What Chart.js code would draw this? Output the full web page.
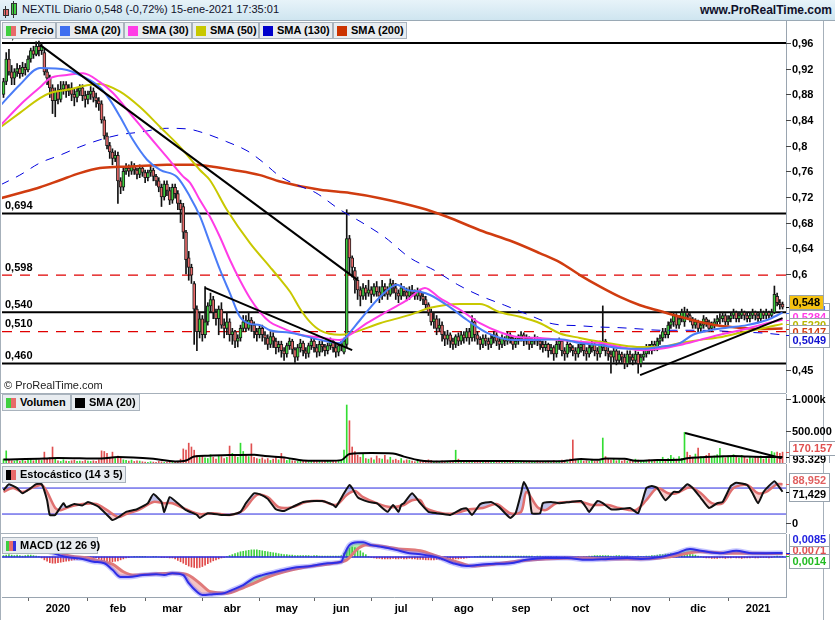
<!DOCTYPE html>
<html>
<head>
<meta charset="utf-8">
<script src="https://cdn.jsdelivr.net/npm/chart.js@4.4.1/dist/chart.umd.min.js"></script>
<style>
body { margin: 0; background: #fff; font-family: "Liberation Sans", Arial, sans-serif; }
#wrap { position: relative; width: 835px; height: 620px; overflow: hidden; background: #fff; }
canvas { position: absolute; left: 0; }
.hdr { position: absolute; left: 0; top: 0; width: 835px; height: 21px; box-sizing: border-box;
  background: linear-gradient(#e7f3f9, #cfe5f0); border-bottom: 1px solid #9aa9b5; z-index: 4; }
.hdr .t { position: absolute; left: 22px; top: 3px; font-size: 11px; color: #10102a; white-space: nowrap; }
.hdr .w { position: absolute; right: 3px; top: 3px; font-size: 12px; font-weight: bold; color: #10102a; }
.ic { position: absolute; border: 1px solid #333; box-sizing: border-box; }
.sep { position: absolute; left: 0; width: 786px; height: 1px; background: #a6b0ba; z-index: 3; }
.vline { position: absolute; top: 20px; width: 1px; height: 600px; background: #a6b0ba; }
.lg { position: absolute; height: 17px; box-sizing: border-box; border: 1px solid #a9b3bd; background: #e8ecf0;
  font: bold 11px "Liberation Sans", Arial, sans-serif; color: #000; line-height: 15px; padding-left: 17px;
  white-space: nowrap; z-index: 3; }
.lg i { position: absolute; left: 3px; top: 3px; width: 10px; height: 10px; }
.copy { position: absolute; left: 4px; top: 379px; font-size: 11px; color: #222; z-index: 3; }
</style>
</head>
<body>
<div id="wrap">
  <div class="hdr">
    <div class="ic" style="left:3px;top:9px;width:6px;height:7px;background:#e86a6a"></div>
    <div class="ic" style="left:5px;top:6px;width:1px;height:12px;border:none;background:#333"></div>
    <div class="ic" style="left:11px;top:3px;width:6px;height:12px;background:#3fcf3f"></div>
    <div class="ic" style="left:13px;top:1px;width:1px;height:17px;border:none;background:#333"></div>
    <span class="t">NEXTIL Diario 0,548 (-0,72%) 15-ene-2021 17:35:01</span>
    <span class="w">www.ProRealTime.com</span>
  </div>
  <div class="vline" style="left:0"></div>
  <div class="vline" style="left:823px"></div>

  <canvas id="cPrice" width="835" height="372" style="top:21px"></canvas>
  <canvas id="cVol" width="835" height="69" style="top:394px"></canvas>
  <canvas id="cStoch" width="835" height="69" style="top:464px"></canvas>
  <canvas id="cMacd" width="835" height="86" style="top:534px"></canvas>

  <div class="sep" style="top:393px"></div>
  <div class="sep" style="top:463px"></div>
  <div class="sep" style="top:533px"></div>

  <div class="lg" style="left:2px;top:22px;width:54px"><i style="background:linear-gradient(90deg,#3fcf3f 50%,#e86a6a 50%)"></i>Precio</div>
  <div class="lg" style="left:56px;top:22px;width:68px"><i style="background:#3f6ff0"></i>SMA (20)</div>
  <div class="lg" style="left:124px;top:22px;width:68px"><i style="background:#ff3ce6"></i>SMA (30)</div>
  <div class="lg" style="left:192px;top:22px;width:67px"><i style="background:#c8c800"></i>SMA (50)</div>
  <div class="lg" style="left:259px;top:22px;width:74px"><i style="background:#0000cc"></i>SMA (130)</div>
  <div class="lg" style="left:333px;top:22px;width:74px"><i style="background:#cc3300"></i>SMA (200)</div>

  <div class="lg" style="left:2px;top:394px;width:69px"><i style="background:linear-gradient(90deg,#3fcf3f 50%,#e86a6a 50%)"></i>Volumen</div>
  <div class="lg" style="left:71px;top:394px;width:69px"><i style="background:#000"></i>SMA (20)</div>
  <div class="lg" style="left:2px;top:466px;width:124px"><i style="background:linear-gradient(90deg,#000 50%,#e86a6a 50%)"></i>Estocástico (14 3 5)</div>
  <div class="lg" style="left:2px;top:537px;width:96px"><i style="background:linear-gradient(90deg,#3fcf3f 33%,#e86a6a 33% 66%,#3333dd 66%)"></i>MACD (12 26 9)</div>

  <div class="copy">© ProRealTime.com</div>
</div>

<script>
// x axis = trading day index (0 = 2 dic 2019, 286 = 15 ene 2021)
const monthStarts = [20, 42, 62, 84, 104, 124, 146, 169, 190, 212, 234, 255, 277];
const monthLabels = ['2020', 'feb', 'mar', 'abr', 'may', 'jun', 'jul', 'ago', 'sep', 'oct', 'nov', 'dic', '2021'];

const opens = [
  0.880, 0.900, 0.935, 0.915, 0.905, 0.915, 0.920, 0.912, 0.922, 0.918,
  0.935, 0.948, 0.942, 0.955, 0.948, 0.945, 0.915, 0.905, 0.890, 0.870,
  0.885, 0.872, 0.888, 0.895, 0.885, 0.890, 0.880, 0.875, 0.885, 0.890,
  0.878, 0.872, 0.880, 0.885, 0.875, 0.870, 0.865, 0.840, 0.815, 0.800,
  0.790, 0.780, 0.785, 0.745, 0.735, 0.760, 0.765, 0.760, 0.768, 0.762,
  0.755, 0.765, 0.758, 0.750, 0.758, 0.762, 0.752, 0.745, 0.735, 0.720,
  0.740, 0.730, 0.715, 0.735, 0.725, 0.710, 0.705, 0.665, 0.625, 0.610,
  0.585, 0.545, 0.510, 0.530, 0.505, 0.525, 0.550, 0.560, 0.540, 0.530,
  0.545, 0.520, 0.515, 0.525, 0.505, 0.510, 0.495, 0.500, 0.515, 0.525,
  0.515, 0.528, 0.520, 0.510, 0.505, 0.515, 0.505, 0.500, 0.490, 0.502,
  0.495, 0.485, 0.490, 0.480, 0.475, 0.488, 0.495, 0.482, 0.470, 0.485,
  0.492, 0.480, 0.476, 0.488, 0.495, 0.485, 0.478, 0.490, 0.486, 0.480,
  0.488, 0.495, 0.485, 0.478, 0.488, 0.478, 0.490, 0.655, 0.625, 0.605,
  0.590, 0.575, 0.565, 0.578, 0.570, 0.575, 0.568, 0.580, 0.572, 0.565,
  0.580, 0.575, 0.568, 0.585, 0.578, 0.570, 0.565, 0.578, 0.572, 0.565,
  0.575, 0.570, 0.565, 0.572, 0.565, 0.560, 0.552, 0.540, 0.525, 0.530,
  0.515, 0.520, 0.505, 0.498, 0.505, 0.495, 0.490, 0.502, 0.495, 0.505,
  0.500, 0.510, 0.500, 0.525, 0.505, 0.498, 0.490, 0.500, 0.495, 0.490,
  0.500, 0.505, 0.495, 0.490, 0.500, 0.495, 0.505, 0.500, 0.490, 0.495,
  0.500, 0.505, 0.495, 0.500, 0.490, 0.495, 0.498, 0.495, 0.490, 0.485,
  0.490, 0.480, 0.485, 0.475, 0.490, 0.495, 0.480, 0.475, 0.490, 0.485,
  0.480, 0.475, 0.485, 0.490, 0.480, 0.475, 0.485, 0.490, 0.480, 0.475,
  0.485, 0.495, 0.480, 0.475, 0.470, 0.480, 0.465, 0.475, 0.470, 0.460,
  0.475, 0.470, 0.465, 0.475, 0.460, 0.470, 0.475, 0.485, 0.480, 0.490,
  0.485, 0.495, 0.500, 0.510, 0.505, 0.520, 0.525, 0.535, 0.520, 0.530,
  0.525, 0.540, 0.535, 0.530, 0.520, 0.525, 0.515, 0.520, 0.530, 0.525,
  0.515, 0.520, 0.525, 0.530, 0.530, 0.535, 0.525, 0.530, 0.535, 0.540,
  0.530, 0.535, 0.540, 0.535, 0.530, 0.535, 0.540, 0.535, 0.530, 0.540,
  0.535, 0.540, 0.535, 0.540, 0.565, 0.555, 0.553
];
const highs = [
  0.905, 0.945, 0.950, 0.925, 0.920, 0.928, 0.925, 0.930, 0.928, 0.940,
  0.952, 0.955, 0.962, 0.963, 0.960, 0.950, 0.920, 0.910, 0.895, 0.890,
  0.895, 0.900, 0.900, 0.900, 0.895, 0.898, 0.888, 0.890, 0.895, 0.895,
  0.885, 0.885, 0.892, 0.890, 0.882, 0.875, 0.870, 0.845, 0.820, 0.805,
  0.795, 0.792, 0.790, 0.750, 0.765, 0.772, 0.770, 0.775, 0.772, 0.765,
  0.770, 0.768, 0.762, 0.762, 0.768, 0.765, 0.755, 0.750, 0.740, 0.745,
  0.745, 0.735, 0.740, 0.740, 0.730, 0.715, 0.710, 0.668, 0.635, 0.615,
  0.588, 0.550, 0.540, 0.535, 0.580, 0.555, 0.570, 0.565, 0.545, 0.550,
  0.555, 0.530, 0.540, 0.530, 0.515, 0.512, 0.505, 0.520, 0.535, 0.535,
  0.540, 0.532, 0.525, 0.515, 0.520, 0.520, 0.510, 0.505, 0.510, 0.508,
  0.500, 0.495, 0.495, 0.485, 0.492, 0.500, 0.498, 0.485, 0.490, 0.498,
  0.495, 0.485, 0.492, 0.500, 0.498, 0.490, 0.495, 0.495, 0.490, 0.492,
  0.500, 0.498, 0.490, 0.492, 0.495, 0.500, 0.700, 0.660, 0.628, 0.610,
  0.595, 0.580, 0.585, 0.582, 0.590, 0.580, 0.585, 0.588, 0.580, 0.590,
  0.585, 0.580, 0.592, 0.590, 0.585, 0.575, 0.585, 0.580, 0.578, 0.580,
  0.582, 0.575, 0.578, 0.576, 0.570, 0.565, 0.555, 0.545, 0.540, 0.535,
  0.530, 0.525, 0.510, 0.512, 0.508, 0.500, 0.505, 0.508, 0.510, 0.510,
  0.515, 0.515, 0.535, 0.530, 0.510, 0.502, 0.505, 0.505, 0.500, 0.505,
  0.510, 0.508, 0.500, 0.505, 0.502, 0.510, 0.508, 0.502, 0.500, 0.505,
  0.510, 0.508, 0.505, 0.502, 0.500, 0.505, 0.502, 0.498, 0.495, 0.495,
  0.492, 0.490, 0.488, 0.495, 0.500, 0.498, 0.485, 0.495, 0.492, 0.488,
  0.485, 0.490, 0.495, 0.492, 0.485, 0.490, 0.495, 0.492, 0.485, 0.495,
  0.550, 0.498, 0.485, 0.480, 0.485, 0.482, 0.480, 0.478, 0.475, 0.480,
  0.480, 0.475, 0.480, 0.478, 0.475, 0.480, 0.490, 0.490, 0.495, 0.495,
  0.500, 0.505, 0.515, 0.515, 0.525, 0.530, 0.540, 0.538, 0.535, 0.545,
  0.548, 0.545, 0.538, 0.532, 0.530, 0.528, 0.525, 0.535, 0.532, 0.528,
  0.525, 0.530, 0.535, 0.538, 0.540, 0.538, 0.535, 0.540, 0.545, 0.542,
  0.540, 0.545, 0.542, 0.540, 0.540, 0.545, 0.542, 0.538, 0.545, 0.542,
  0.545, 0.542, 0.545, 0.581, 0.570, 0.560, 0.556
];
const lows = [
  0.875, 0.895, 0.910, 0.895, 0.895, 0.908, 0.905, 0.908, 0.910, 0.915,
  0.930, 0.936, 0.940, 0.940, 0.942, 0.910, 0.895, 0.875, 0.850, 0.845,
  0.865, 0.868, 0.880, 0.875, 0.878, 0.870, 0.862, 0.868, 0.878, 0.870,
  0.860, 0.865, 0.872, 0.868, 0.860, 0.855, 0.835, 0.810, 0.795, 0.780,
  0.770, 0.775, 0.710, 0.725, 0.730, 0.755, 0.752, 0.755, 0.755, 0.748,
  0.750, 0.752, 0.742, 0.745, 0.752, 0.745, 0.738, 0.728, 0.705, 0.715,
  0.722, 0.708, 0.710, 0.718, 0.700, 0.680, 0.655, 0.600, 0.590, 0.585,
  0.490, 0.480, 0.500, 0.495, 0.500, 0.520, 0.540, 0.530, 0.520, 0.505,
  0.515, 0.500, 0.505, 0.495, 0.490, 0.485, 0.486, 0.495, 0.510, 0.510,
  0.512, 0.510, 0.500, 0.495, 0.500, 0.495, 0.490, 0.482, 0.485, 0.485,
  0.475, 0.478, 0.470, 0.465, 0.470, 0.482, 0.475, 0.462, 0.465, 0.478,
  0.472, 0.468, 0.470, 0.482, 0.478, 0.470, 0.472, 0.478, 0.472, 0.475,
  0.482, 0.478, 0.470, 0.472, 0.480, 0.475, 0.485, 0.600, 0.595, 0.570,
  0.560, 0.550, 0.560, 0.560, 0.565, 0.555, 0.565, 0.565, 0.555, 0.560,
  0.565, 0.560, 0.565, 0.570, 0.560, 0.555, 0.560, 0.565, 0.558, 0.560,
  0.565, 0.560, 0.560, 0.558, 0.552, 0.545, 0.535, 0.520, 0.515, 0.505,
  0.510, 0.495, 0.488, 0.490, 0.485, 0.482, 0.485, 0.488, 0.490, 0.492,
  0.495, 0.490, 0.495, 0.495, 0.490, 0.482, 0.485, 0.488, 0.482, 0.485,
  0.492, 0.488, 0.482, 0.485, 0.488, 0.490, 0.492, 0.482, 0.485, 0.490,
  0.495, 0.488, 0.490, 0.482, 0.485, 0.490, 0.488, 0.482, 0.478, 0.480,
  0.470, 0.475, 0.465, 0.470, 0.482, 0.472, 0.465, 0.470, 0.478, 0.472,
  0.465, 0.470, 0.478, 0.472, 0.465, 0.470, 0.478, 0.472, 0.465, 0.470,
  0.480, 0.472, 0.465, 0.445, 0.462, 0.458, 0.460, 0.462, 0.452, 0.455,
  0.462, 0.458, 0.460, 0.445, 0.455, 0.465, 0.470, 0.475, 0.475, 0.480,
  0.480, 0.490, 0.495, 0.500, 0.500, 0.515, 0.518, 0.515, 0.515, 0.525,
  0.518, 0.530, 0.525, 0.515, 0.515, 0.510, 0.510, 0.515, 0.518, 0.510,
  0.510, 0.515, 0.520, 0.522, 0.525, 0.520, 0.520, 0.525, 0.530, 0.525,
  0.525, 0.530, 0.528, 0.525, 0.525, 0.530, 0.528, 0.525, 0.525, 0.530,
  0.530, 0.530, 0.532, 0.538, 0.550, 0.545, 0.545
];
const closes = [
  0.900, 0.935, 0.915, 0.905, 0.915, 0.920, 0.912, 0.922, 0.918, 0.935,
  0.948, 0.942, 0.955, 0.948, 0.955, 0.915, 0.905, 0.890, 0.870, 0.885,
  0.872, 0.888, 0.895, 0.885, 0.890, 0.880, 0.875, 0.885, 0.890, 0.878,
  0.872, 0.880, 0.885, 0.875, 0.870, 0.865, 0.840, 0.815, 0.800, 0.790,
  0.780, 0.785, 0.745, 0.735, 0.760, 0.765, 0.760, 0.768, 0.762, 0.755,
  0.765, 0.758, 0.750, 0.758, 0.762, 0.752, 0.745, 0.735, 0.720, 0.740,
  0.730, 0.715, 0.735, 0.725, 0.710, 0.700, 0.665, 0.622, 0.610, 0.598,
  0.545, 0.510, 0.530, 0.505, 0.525, 0.550, 0.560, 0.540, 0.530, 0.545,
  0.520, 0.515, 0.525, 0.505, 0.510, 0.495, 0.500, 0.515, 0.525, 0.515,
  0.528, 0.520, 0.510, 0.505, 0.515, 0.505, 0.500, 0.490, 0.502, 0.495,
  0.485, 0.490, 0.480, 0.475, 0.488, 0.495, 0.482, 0.470, 0.485, 0.492,
  0.480, 0.476, 0.488, 0.495, 0.485, 0.478, 0.490, 0.486, 0.480, 0.488,
  0.495, 0.485, 0.478, 0.488, 0.490, 0.495, 0.655, 0.625, 0.610, 0.590,
  0.575, 0.565, 0.578, 0.570, 0.575, 0.568, 0.580, 0.572, 0.565, 0.580,
  0.575, 0.568, 0.585, 0.578, 0.570, 0.565, 0.578, 0.572, 0.565, 0.575,
  0.570, 0.565, 0.572, 0.565, 0.560, 0.552, 0.540, 0.525, 0.530, 0.515,
  0.520, 0.505, 0.498, 0.505, 0.495, 0.490, 0.502, 0.495, 0.505, 0.500,
  0.510, 0.500, 0.525, 0.505, 0.498, 0.490, 0.500, 0.495, 0.490, 0.500,
  0.505, 0.495, 0.490, 0.500, 0.495, 0.505, 0.500, 0.490, 0.495, 0.500,
  0.505, 0.495, 0.500, 0.490, 0.495, 0.498, 0.495, 0.490, 0.485, 0.490,
  0.480, 0.485, 0.475, 0.490, 0.495, 0.480, 0.475, 0.490, 0.485, 0.480,
  0.475, 0.485, 0.490, 0.480, 0.475, 0.485, 0.490, 0.480, 0.475, 0.490,
  0.495, 0.480, 0.475, 0.470, 0.480, 0.465, 0.475, 0.470, 0.460, 0.475,
  0.470, 0.465, 0.475, 0.460, 0.470, 0.475, 0.485, 0.480, 0.490, 0.485,
  0.495, 0.500, 0.510, 0.505, 0.520, 0.525, 0.535, 0.520, 0.530, 0.540,
  0.540, 0.535, 0.530, 0.520, 0.525, 0.515, 0.520, 0.530, 0.525, 0.515,
  0.520, 0.525, 0.530, 0.530, 0.535, 0.525, 0.530, 0.535, 0.540, 0.530,
  0.535, 0.540, 0.535, 0.530, 0.535, 0.540, 0.535, 0.530, 0.540, 0.535,
  0.540, 0.535, 0.540, 0.568, 0.555, 0.552, 0.548
];

// moving averages: [day, value]
const sma20 = [[-1,0.863],[6,0.895],[13.4,0.921],[23.3,0.918],[28,0.91],[35.4,0.891],[39.1,0.871],[42.8,0.845],[47.5,0.809],[52.7,0.778],[57.5,0.762],[63.7,0.751],[68.5,0.72],[72.1,0.69],[75.8,0.648],[79.5,0.606],[83.1,0.57],[86.8,0.533],[90.5,0.522],[94.2,0.52],[97.8,0.512],[105.2,0.508],[108.8,0.505],[116.2,0.497],[123.5,0.492],[125.4,0.5],[130.9,0.528],[138.2,0.564],[144.5,0.583],[148.1,0.575],[152.9,0.572],[156.6,0.567],[163.9,0.548],[170.2,0.528],[177.5,0.508],[187,0.497],[194.4,0.497],[204.3,0.498],[211.6,0.492],[219,0.489],[226.3,0.484],[233.7,0.483],[241,0.486],[248.3,0.492],[253.1,0.505],[259.4,0.512],[265.6,0.516],[272.9,0.52],[280.3,0.528],[286,0.5394]];
const sma30 = [[-1,0.832],[6,0.863],[13.4,0.891],[17.1,0.905],[23.3,0.91],[29.2,0.913],[35.4,0.899],[40.2,0.882],[47.5,0.845],[53.8,0.813],[60,0.782],[65.9,0.752],[68.5,0.742],[72.1,0.715],[75.8,0.689],[79.5,0.657],[83.1,0.622],[86.8,0.59],[90.5,0.562],[94.2,0.54],[97.8,0.525],[101.5,0.517],[108.8,0.505],[116.2,0.501],[123.5,0.497],[127.2,0.505],[133.4,0.523],[141.9,0.544],[148.1,0.559],[154.7,0.578],[160.2,0.562],[167.6,0.544],[174.9,0.523],[182.3,0.509],[189.6,0.501],[197,0.5],[204.3,0.497],[211.6,0.494],[219,0.492],[226.3,0.486],[234.8,0.481],[241,0.483],[248.3,0.489],[255.7,0.497],[263,0.505],[270.4,0.512],[277.7,0.52],[286,0.5284]];
const sma50 = [[-1,0.829],[6,0.851],[13.4,0.874],[17.1,0.882],[23.3,0.887],[30.7,0.894],[35.4,0.896],[42.8,0.884],[50.1,0.86],[57.5,0.829],[64.8,0.798],[72.1,0.762],[75.8,0.746],[82,0.7],[90.5,0.648],[97.8,0.611],[101.5,0.592],[105.2,0.572],[108.8,0.546],[112.5,0.525],[116.2,0.512],[123.5,0.505],[127.2,0.507],[138.2,0.523],[149.2,0.536],[156.6,0.547],[167.6,0.553],[174.9,0.553],[182.3,0.54],[189.6,0.533],[197,0.523],[204.3,0.507],[211.6,0.5],[219,0.494],[226.3,0.489],[233.7,0.486],[241,0.486],[248.3,0.492],[255.7,0.497],[263,0.501],[270.4,0.508],[277.7,0.514],[286,0.522]];
const sma130 = [[-1,0.739],[6,0.754],[13.4,0.773],[20.7,0.785],[28,0.798],[35.4,0.809],[42.8,0.817],[50.1,0.821],[60,0.827],[67.4,0.826],[74.7,0.818],[82,0.806],[89.4,0.792],[95,0.775],[101.5,0.752],[108,0.738],[114.4,0.727],[123.5,0.7],[131.6,0.68],[140,0.657],[149.2,0.625],[158.4,0.605],[166.8,0.583],[174.9,0.566],[184,0.551],[192.2,0.537],[201.7,0.522],[211.6,0.519],[219,0.517],[226.3,0.516],[233.7,0.514],[241,0.512],[255.7,0.512],[263,0.511],[270.4,0.509],[277.7,0.508],[286,0.5049]];
const sma200 = [[-1,0.718],[6,0.726],[13.4,0.735],[20.7,0.746],[28,0.757],[35.4,0.765],[42.8,0.767],[50.1,0.768],[60,0.77],[69.6,0.77],[76.9,0.767],[84.3,0.762],[94.2,0.754],[101.5,0.744],[116.2,0.731],[127.2,0.726],[138.2,0.718],[152.9,0.703],[162.8,0.689],[174.9,0.668],[187,0.65],[197,0.632],[204.3,0.618],[211.6,0.598],[219,0.58],[226.3,0.564],[233.7,0.551],[241,0.542],[248.3,0.533],[255.7,0.525],[263,0.519],[270.4,0.516],[277.7,0.514],[286,0.5147]];

// drawn trend lines and horizontal levels
const trendA = [[13.4, 0.957], [129.8, 0.591]];
const trendB = [[74, 0.578], [128, 0.481]];
const trendC = [[233.7, 0.442], [286, 0.531]];
const solidLevels = [0.96, 0.694, 0.54, 0.46];
const dashedLevels = [0.598, 0.51];
const levelLabels = ['0,960', '0,694', '0,598', '0,540', '0,510', '0,460'];
const priceTicks = [0.96, 0.92, 0.88, 0.84, 0.8, 0.76, 0.72, 0.68, 0.64, 0.6, 0.45];

// volume, thousands
const volume = [
  60, 190, 50, 35, 30, 45, 25, 50, 30, 40,
  60, 35, 50, 45, 40, 170, 70, 80, 250, 60,
  35, 25, 50, 30, 25, 35, 45, 25, 30, 25,
  40, 30, 25, 35, 25, 50, 190, 180, 150, 80,
  170, 70, 110, 80, 50, 40, 30, 45, 25, 35,
  30, 20, 15, 10, 20, 15, 12, 25, 18, 10,
  15, 20, 12, 18, 25, 60, 220, 200, 310, 250,
  200, 120, 90, 110, 80, 70, 130, 90, 60, 120,
  100, 70, 90, 265, 150, 110, 90, 310, 180, 120,
  100, 300, 90, 70, 60, 80, 50, 70, 40, 60,
  90, 50, 150, 70, 40, 60, 35, 30, 25, 40,
  30, 25, 20, 35, 30, 25, 40, 20, 30, 25,
  20, 35, 25, 40, 30, 200, 906, 660, 250, 180,
  120, 90, 150, 70, 60, 80, 50, 110, 70, 60,
  120, 50, 90, 45, 60, 40, 70, 35, 50, 45,
  30, 20, 35, 25, 30, 40, 50, 40, 25, 30,
  25, 35, 20, 25, 30, 20, 200, 60, 25, 20,
  25, 20, 40, 25, 15, 25, 20, 15, 25, 20,
  20, 30, 15, 25, 15, 20, 15, 30, 20, 15,
  25, 15, 20, 30, 15, 20, 35, 25, 15, 20,
  30, 20, 40, 25, 35, 45, 30, 20, 60, 360,
  60, 40, 50, 30, 35, 25, 45, 25, 30, 35,
  390, 100, 60, 45, 70, 35, 50, 30, 45, 30,
  25, 35, 60, 45, 30, 40, 30, 50, 35, 45,
  30, 50, 90, 45, 70, 120, 80, 60, 100, 70,
  480, 170, 120, 90, 140, 234, 100, 80, 120, 150,
  90, 110, 130, 230, 100, 80, 110, 90, 130, 100,
  80, 120, 90, 60, 100, 70, 90, 80, 110, 60,
  90, 70, 180, 160, 170, 150, 170.157
];
const volSma = [[0,55],[15,70],[20,80],[36,70],[42,95],[55,65],[63,25],[67,40],[70,100],[75,115],[85,125],[92,130],[96,110],[104,80],[110,40],[120,35],[124,45],[127,140],[135,155],[143,150],[147,100],[153,40],[160,25],[166,30],[185,30],[205,28],[208,45],[212,62],[218,50],[221,70],[228,65],[232,35],[240,45],[248,50],[251,75],[256,90],[262,100],[268,110],[273,100],[280,95],[286,93.329]];
const volTrend = [[250.2, 469], [285.7, 73]];

// stochastic %K and %D
const stochK = [[0,75],[2,89],[5,80],[7,68],[10,80],[12,89],[14,89],[16,52],[17,18],[19,18],[22,45],[23,36],[26,43],[29,40],[31,48],[34,40],[35,36],[38,18],[40,6],[42,12],[45,25],[49,31],[53,45],[55,66],[58,48],[59,25],[61,59],[64,45],[67,29],[71,18],[72,11],[75,22],[80,18],[83,18],[87,25],[89,45],[92,68],[94,66],[97,55],[100,31],[103,27],[106,36],[110,48],[114,50],[117,50],[121,41],[122,36],[125,68],[127,87],[128,80],[130,59],[134,48],[137,45],[141,25],[143,41],[145,25],[146,41],[147,45],[150,68],[153,45],[156,25],[159,22],[164,18],[168,31],[170,33],[172,18],[175,43],[179,48],[182,36],[186,11],[188,22],[190,68],[191,94],[193,68],[194,22],[197,22],[198,45],[201,48],[204,45],[208,48],[212,50],[214,34],[215,25],[218,50],[220,45],[223,31],[226,31],[230,34],[233,22],[236,80],[238,85],[240,80],[243,52],[246,71],[248,71],[251,89],[253,80],[256,57],[259,34],[262,45],[264,48],[267,85],[269,92],[273,87],[275,68],[277,45],[279,71],[281,85],[283,96],[284,89],[286,71.429]];
const stochD = [[0,71],[3.5,80],[7,71],[11,82],[14,87],[16,71],[19,34],[21,29],[24,36],[29,43],[34,43],[38,29],[42,13],[45,20],[50,31],[55,48],[59,45],[62,45],[67,31],[72,20],[77,22],[83,18],[88,29],[93,64],[97,59],[101,36],[106,36],[111,48],[117,50],[122,41],[126,64],[129,73],[132,59],[137,45],[142,36],[147,41],[150,52],[153,52],[155,34],[161,22],[166,22],[171,31],[176,34],[181,43],[186,22],[190,25],[192,71],[196,36],[199,29],[203,45],[212,48],[216,41],[222,41],[226,34],[232,29],[236,52],[240,80],[244,68],[247,68],[252,82],[256,68],[260,45],[264,45],[268,80],[273,87],[277,68],[280,71],[284,89],[286,88.952]];

// MACD (12 26 9)
const macdLine = [[0,0.018],[8,0.021],[13,0.019],[18,0.0084],[23,0],[29,-0.004],[33,-0.01],[37,-0.013],[40,-0.027],[43,-0.042],[46,-0.042],[51,-0.038],[56,-0.036],[59,-0.038],[62,-0.034],[66,-0.038],[68,-0.055],[71,-0.073],[73,-0.08],[77,-0.078],[81,-0.076],[84,-0.069],[88,-0.059],[92,-0.044],[95,-0.038],[100,-0.031],[106,-0.023],[113,-0.019],[119,-0.013],[124,-0.01],[125,0.004],[127,0.025],[130,0.031],[132,0.031],[135,0.025],[139,0.021],[144,0.015],[149,0.008],[153,0.006],[160,-0.002],[165,-0.013],[170,-0.019],[177,-0.015],[186,-0.013],[192,-0.006],[199,-0.002],[207,-0.002],[214,-0.006],[222,-0.004],[229,-0.002],[234,-0.004],[241,0],[247,0.008],[252,0.017],[256,0.013],[263,0.008],[269,0.013],[275,0.008],[280,0.008],[286,0.0085]];
const macdSignal = [[0,0.012],[8,0.016],[14,0.018],[20,0.012],[23,0.004],[31,-0.002],[35,-0.008],[40,-0.015],[44,-0.031],[48,-0.038],[54,-0.036],[62,-0.034],[67,-0.036],[72,-0.055],[76,-0.073],[82,-0.076],[87,-0.067],[92,-0.055],[97,-0.042],[103,-0.031],[111,-0.021],[121,-0.013],[126,-0.006],[130,0.017],[133,0.025],[138,0.023],[145,0.017],[153,0.013],[160,0],[168,-0.013],[172,-0.019],[180,-0.015],[190,-0.008],[199,-0.004],[212,-0.002],[222,-0.004],[234,-0.004],[244,0],[251,0.008],[256,0.011],[266,0.008],[275,0.008],[286,0.0071]];
const macdHist = [
  .003, .004, .005, .004, .003, .004, .003, .002, .003, .004,
  .004, .003, .002, .001, -.002, -.006, -.009, -.012, -.013, -.013,
  -.012, -.011, -.010, -.009, -.008, -.007, -.006, -.005, -.004, -.004,
  -.003, -.002, -.002, -.001, -.002, -.004, -.006, -.008, -.009, -.010,
  -.010, -.009, -.008, -.006, -.004, -.002, -.001, .000, .001, .001,
  .001, .001, .001, .000, .000, .001, .001, .000, -.001, -.001,
  -.001, -.002, -.002, -.004, -.007, -.010, -.013, -.016, -.019, -.021,
  -.022, -.023, -.022, -.020, -.017, -.014, -.011, -.008, -.006, -.004,
  -.002, -.001, .001, .003, .005, .007, .009, .011, .012, .013,
  .014, .015, .015, .015, .014, .013, .012, .011, .010, .009,
  .008, .007, .006, .005, .005, .004, .004, .003, .003, .003,
  .003, .003, .003, .002, .003, .003, .002, .002, .002, .002,
  .002, .002, .002, .002, .003, .008, .015, .019, .021, .020,
  .017, .013, .009, .005, .001, -.001, -.002, -.003, -.003, -.004,
  -.004, -.004, -.004, -.003, -.004, -.004, -.003, -.004, -.004, -.003,
  -.004, -.004, -.005, -.005, -.005, -.006, -.006, -.006, -.006, -.005,
  -.005, -.006, -.006, -.005, -.005, -.005, -.004, -.004, -.003, -.003,
  -.002, -.001, .000, .001, .001, .002, .002, .002, .002, .002,
  .002, .002, .002, .002, .002, .002, .002, .002, .002, .002,
  .002, .002, .002, .002, .002, .001, .002, .002, .001, .001,
  .001, .001, .000, .001, .000, .000, .001, .000, -.001, .000,
  .000, .001, .000, .001, .001, .002, .002, .003, .003, .003,
  .003, .003, .003, .002, .002, .003, .003, .002, .002, .002,
  .001, .001, .001, .002, .001, .001, .002, .002, .003, .003,
  .004, .005, .005, .006, .006, .007, .007, .008, .008, .008,
  .008, .007, .006, .005, .004, .002, .001, -.001, -.002, -.002,
  -.003, -.003, -.003, -.002, -.002, -.003, -.002, -.002, -.001, -.002,
  -.002, -.003, -.002, -.002, -.002, -.001, -.002, -.002, -.001, -.001,
  -.001, -.002, -.001, .001, .002, .001, .0014
];

const FONT = '"Liberation Sans", Arial, sans-serif';
const X_MIN = -0.55, X_MAX = 287.26;
const GREEN = '#3fcf3f', RED = '#e86a6a';

function pts(pairs) { return pairs.map(p => ({ x: p[0], y: p[1] })); }
function line(pairs, color, width, order, extra) {
  return Object.assign({ type: 'line', data: pts(pairs), borderColor: color, borderWidth: width,
    pointRadius: 0, cubicInterpolationMode: 'monotone', order: order }, extra || {});
}
function hline(v, color, width, order, dash) {
  return { type: 'line', data: [{ x: X_MIN, y: v }, { x: X_MAX, y: v }], borderColor: color,
    borderWidth: width, borderDash: dash || [], pointRadius: 0, order: order };
}

// right axis labels, value boxes and level labels
const deco = {
  id: 'deco',
  afterDraw(chart, args, o) {
    const ctx = chart.ctx, ys = chart.scales.y, a = chart.chartArea;
    ctx.save();
    ctx.font = 'bold 11px ' + FONT;
    ctx.lineWidth = 1;
    ctx.textBaseline = 'middle';
    (o.ticks || []).forEach(t => {
      const py = Math.round(ys.getPixelForValue(t[0])) + 0.5;
      ctx.strokeStyle = '#444';
      ctx.beginPath(); ctx.moveTo(a.right, py); ctx.lineTo(a.right + 5, py); ctx.stroke();
      ctx.fillStyle = '#000';
      ctx.fillText(t[1], a.right + 6, py);
    });
    ctx.textBaseline = 'bottom';
    (o.levels || []).forEach(t => {
      ctx.fillStyle = '#000';
      ctx.fillText(t[1], a.left + 3, ys.getPixelForValue(t[0]) - 2);
    });
    ctx.textBaseline = 'middle';
    const boxes = o.boxes || [];
    let prev = -1e9;
    const placed = boxes.map(b => {
      const c = Math.max(ys.getPixelForValue(b.v), prev + o.gap);
      prev = c;
      return Object.assign({}, b, { c: c + (o.shift || 0), py: ys.getPixelForValue(b.v) });
    });
    const drawBox = b => {
      ctx.strokeStyle = b.color;
      ctx.beginPath(); ctx.moveTo(a.right, Math.round(b.py) + 0.5); ctx.lineTo(a.right + 4, Math.round(b.py) + 0.5); ctx.stroke();
      const w = Math.ceil(ctx.measureText(b.text).width) + 6, h = 14;
      const x = a.right + 3.5, y = Math.round(b.c - h / 2) + 0.5;
      ctx.fillStyle = b.bg || '#fff';
      ctx.fillRect(x, y, w, h);
      ctx.strokeStyle = '#98a3ae';
      ctx.strokeRect(x, y, w, h);
      ctx.fillStyle = b.color;
      ctx.fillText(b.text, x + 3, y + h / 2 + 0.5);
    };
    placed.slice(1).forEach(drawBox);
    if (placed.length) drawBox(placed[0]);
    ctx.restore();
  }
};

function options(yMin, yMax, decoOpts, showX) {
  return {
    responsive: false, animation: false, events: [],
    layout: { padding: { left: 2, right: 0, top: 0, bottom: 0 } },
    plugins: { legend: { display: false }, tooltip: { enabled: false },
      filler: { drawTime: 'beforeDatasetsDraw' }, deco: decoOpts },
    scales: {
      x: {
        type: 'linear', min: X_MIN, max: X_MAX, offset: false, display: !!showX,
        afterBuildTicks: s => { s.ticks = monthStarts.map(v => ({ value: v })); },
        afterFit: s => { s.height = showX ? 23 : 0; },
        ticks: { autoSkip: false, maxRotation: 0, padding: 1, color: '#000',
          font: { family: FONT, size: 11, weight: 'bold' },
          callback: (v, i) => monthLabels[i] },
        grid: { drawOnChartArea: false, tickLength: 4, color: '#666' },
        border: { color: '#9aa5b0' }
      },
      y: {
        position: 'right', min: yMin, max: yMax,
        ticks: { display: false }, grid: { display: false },
        border: { display: true, color: '#9aa5b0' },
        afterFit: s => { s.width = 49; }
      }
    }
  };
}

// ---- price panel
const bodyColors = closes.map((c, i) => c >= opens[i] ? GREEN : RED);
const priceSets = [
  line(trendA, '#000', 2, 0, { cubicInterpolationMode: 'default' }),
  line(trendB, '#000', 2, 0, { cubicInterpolationMode: 'default' }),
  line(trendC, '#000', 2, 0, { cubicInterpolationMode: 'default' }),
  line(sma20, '#4a7cf7', 2, 1),
  line(sma30, '#ff3ce6', 2, 2),
  line(sma50, '#c8c800', 2, 3),
  line(sma130, '#0000dd', 1, 4, { borderDash: [9, 8] }),
  line(sma200, '#d03c10', 2.5, 5),
  { type: 'bar', data: closes.map((c, i) => ({ x: i, y: [opens[i], c] })), backgroundColor: bodyColors,
    borderColor: '#1b1b1b', borderWidth: 1, borderSkipped: false, barThickness: 3, minBarLength: 1,
    grouped: false, order: 6 },
  { type: 'bar', data: closes.map((c, i) => ({ x: i, y: [lows[i], highs[i]] })), backgroundColor: '#111',
    barThickness: 1, grouped: false, order: 7 }
];
solidLevels.forEach(v => priceSets.push(hline(v, '#000', 2, 8)));
dashedLevels.forEach(v => priceSets.push(hline(v, '#e00000', 1.2, 8, [10, 8])));

const lastOf = s => s[s.length - 1][1];
new Chart(document.getElementById('cPrice'), {
  type: 'bar',
  data: { datasets: priceSets },
  options: options(0.41416, 0.99431, {
    ticks: priceTicks.map(v => [v, String(v).replace('.', ',')]),
    levels: [0.96, 0.694, 0.598, 0.54, 0.51, 0.46].map((v, i) => [v, levelLabels[i]]),
    gap: 7.5, shift: -5,
    boxes: [
      { v: closes[closes.length - 1], text: '0,548', color: '#000', bg: '#f5c211' },
      { v: lastOf(sma20), text: '0,5394', color: '#3f6ff0' },
      { v: lastOf(sma30), text: '0,5284', color: '#ff3ce6' },
      { v: lastOf(sma50), text: '0,5220', color: '#b8b800' },
      { v: lastOf(sma200), text: '0,5147', color: '#d03c10' },
      { v: lastOf(sma130), text: '0,5049', color: '#1010d0' }
    ]
  }),
  plugins: [deco]
});

// ---- volume panel
new Chart(document.getElementById('cVol'), {
  type: 'bar',
  data: { datasets: [
    line(volTrend, '#000', 2, 0, { cubicInterpolationMode: 'default' }),
    line(volSma, '#000', 2, 1),
    { type: 'bar', data: volume.map((v, i) => ({ x: i, y: v })),
      backgroundColor: volume.map((v, i) => closes[i] >= opens[i] ? '#33dd33' : '#e05050'),
      barThickness: 1, grouped: false, order: 2 }
  ] },
  options: options(0, 1078, {
    ticks: [[1000, '1.000k'], [500, '500.000']], gap: 11, shift: -4,
    boxes: [
      { v: volume[volume.length - 1], text: '170.157', color: '#e05050' },
      { v: lastOf(volSma), text: '93.329', color: '#000' }
    ]
  }),
  plugins: [deco]
});

// ---- stochastic panel
new Chart(document.getElementById('cStoch'), {
  type: 'line',
  data: { datasets: [
    line(stochK, '#111', 2, 0, { cubicInterpolationMode: 'default', tension: 0.15,
      fill: { target: 1, above: 'rgba(150,155,220,0.6)', below: 'rgba(240,165,165,0.55)' } }),
    line(stochD, '#e07070', 2.5, 1, { cubicInterpolationMode: 'default', tension: 0.3 }),
    hline(80, '#2828e0', 1, 2),
    hline(20, '#2828e0', 1, 2)
  ] },
  options: options(-23.79, 135.57, {
    ticks: [[0, '0']], gap: 14, shift: -4,
    boxes: [
      { v: lastOf(stochD), text: '88,952', color: '#e06060' },
      { v: lastOf(stochK), text: '71,429', color: '#000' }
    ]
  }),
  plugins: [deco]
});

// ---- MACD panel (with the date axis)
new Chart(document.getElementById('cMacd'), {
  type: 'bar',
  data: { datasets: [
    line(macdLine, '#2e2ee6', 2, 0, { fill: { target: 2, above: 'rgba(150,230,140,0.75)', below: 'rgba(240,165,165,0.65)' } }),
    line(macdLine, 'rgba(90,90,255,0.35)', 5, 1),
    line(macdSignal, '#e07a7a', 3, 2),
    hline(0, '#2828e0', 1.5, 3),
    { type: 'bar', data: macdHist.map((v, i) => ({ x: i, y: v })),
      backgroundColor: macdHist.map(v => v >= 0 ? '#3fcf3f' : '#e04848'),
      barThickness: 1, grouped: false, order: 4 }
  ] },
  options: options(-0.084, 0.0483, {
    gap: 11, shift: -14,
    boxes: [
      { v: lastOf(macdLine), text: '0,0085', color: '#2020e0' },
      { v: lastOf(macdSignal), text: '0,0071', color: '#e05050' },
      { v: macdHist[macdHist.length - 1], text: '0,0014', color: '#22bb22' }
    ]
  }, true),
  plugins: [deco]
});
</script>
</body>
</html>
